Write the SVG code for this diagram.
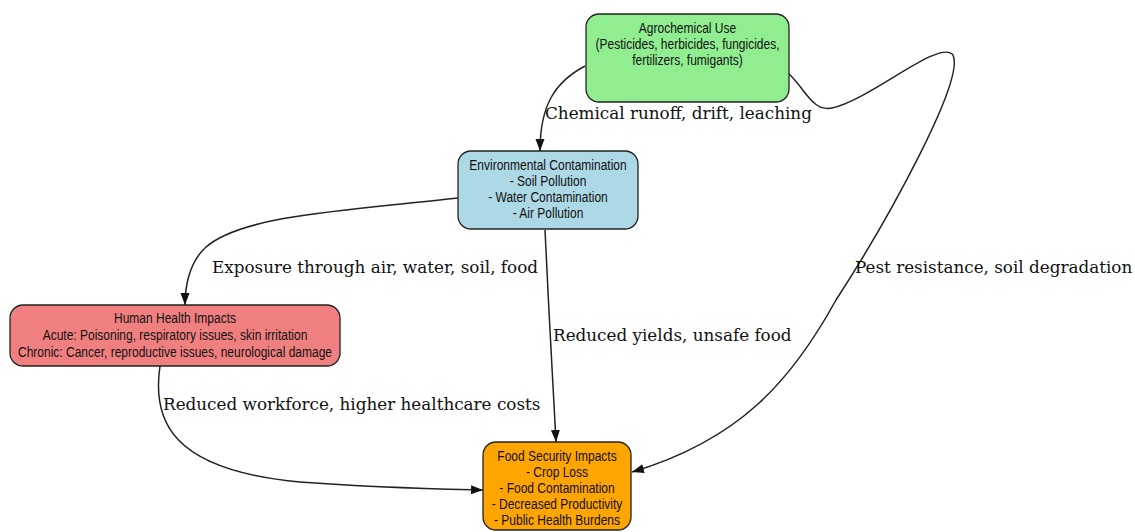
<svg xmlns="http://www.w3.org/2000/svg" width="1135" height="532" viewBox="0 0 1135 532">
<style>
.node rect{stroke:#222;stroke-width:1.3}
.nt{font-family:"Liberation Sans",Arial,sans-serif;font-size:15px;fill:#111;text-anchor:middle}
.el{font-family:"DejaVu Serif",serif;font-size:16.8px;fill:#111}
.edges path{fill:none;stroke:#222;stroke-width:1.5}
</style>
<defs>
<marker id="ah" viewBox="0 0 12 10" refX="12" refY="5" markerWidth="12" markerHeight="10" markerUnits="userSpaceOnUse" orient="auto">
<path d="M0,0.5 L12,5 L0,9.5 z" fill="#111"/>
</marker>
</defs>
<rect width="1135" height="532" fill="#fff"/>
<g class="edges">
<path d="M585,66 C555,82 540,105 540,151" marker-end="url(#ah)"/>
<path d="M788,73 C805,88 812,112 832,108 C870,100 940,38 953,55 C965,80 888,220 836,300 C792,380 740,440 632,472" marker-end="url(#ah)"/>
<path d="M458,198 C350,210 240,215 205,248 C190,262 185,285 185,305" marker-end="url(#ah)"/>
<path d="M545,230 C548,300 553,380 556,442" marker-end="url(#ah)"/>
<path d="M160,366 C152,420 170,470 300,482 C380,488 440,489 483,490" marker-end="url(#ah)"/>
</g>
<g class="labels">
<text class="el" x="545" y="119">Chemical runoff, drift, leaching</text>
<text class="el" x="855" y="273">Pest resistance, soil degradation</text>
<text class="el" x="212" y="273">Exposure through air, water, soil, food</text>
<text class="el" x="553" y="341">Reduced yields, unsafe food</text>
<text class="el" x="163" y="410">Reduced workforce, higher healthcare costs</text>
</g>
<g id="agro" class="node">
<rect x="586" y="14" width="203" height="88" rx="13" fill="#90ee90"/>
<g transform="translate(687.5 0) scale(0.8 1)">
<text class="nt" x="0" y="33">Agrochemical Use</text>
<text class="nt" x="0" y="49">(Pesticides, herbicides, fungicides,</text>
<text class="nt" x="0" y="65">fertilizers, fumigants)</text>
</g>
</g>
<g id="env" class="node">
<rect x="458" y="151" width="180" height="78" rx="13" fill="#add8e6"/>
<g transform="translate(548 0) scale(0.8 1)">
<text class="nt" x="0" y="170">Environmental Contamination</text>
<text class="nt" x="0" y="186">- Soil Pollution</text>
<text class="nt" x="0" y="202">- Water Contamination</text>
<text class="nt" x="0" y="218">- Air Pollution</text>
</g>
</g>
<g id="human" class="node">
<rect x="10" y="305" width="330" height="61" rx="13" fill="#f08080"/>
<g transform="translate(175 0) scale(0.8 1)">
<text class="nt" x="0" y="323">Human Health Impacts</text>
<text class="nt" x="0" y="340">Acute: Poisoning, respiratory issues, skin irritation</text>
<text class="nt" x="0" y="357">Chronic: Cancer, reproductive issues, neurological damage</text>
</g>
</g>
<g id="food" class="node">
<rect x="483" y="442" width="148" height="88" rx="13" fill="#ffa500"/>
<g transform="translate(557 0) scale(0.8 1)">
<text class="nt" x="0" y="461">Food Security Impacts</text>
<text class="nt" x="0" y="477">- Crop Loss</text>
<text class="nt" x="0" y="493">- Food Contamination</text>
<text class="nt" x="0" y="509">- Decreased Productivity</text>
<text class="nt" x="0" y="525">- Public Health Burdens</text>
</g>
</g>
</svg>
